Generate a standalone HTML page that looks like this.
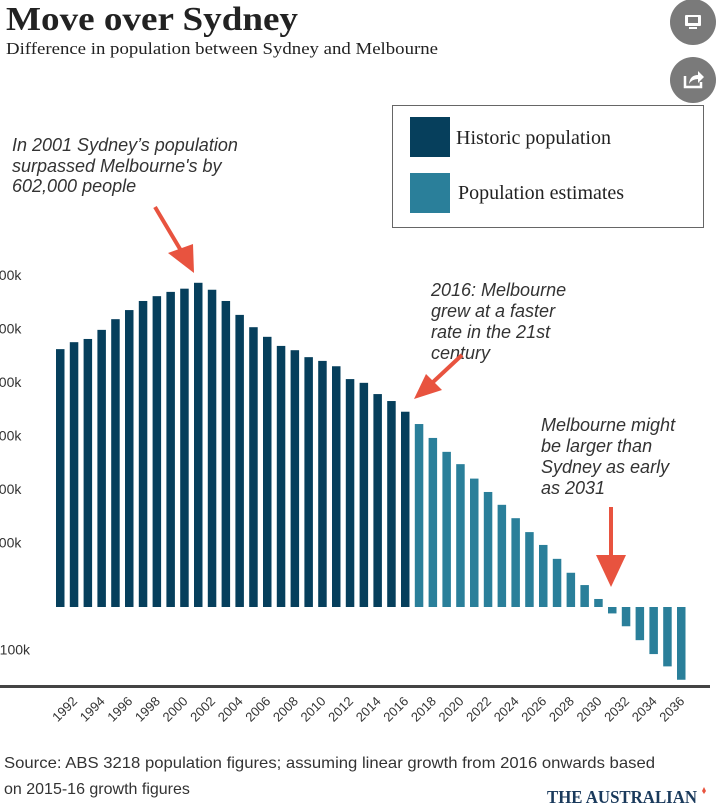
<!DOCTYPE html>
<html><head><meta charset="utf-8"><style>
html,body{margin:0;padding:0;background:#fff;width:725px;height:811px;overflow:hidden}
svg{display:block}
</style></head><body>
<svg id="chart" width="725" height="811" viewBox="0 0 725 811" xmlns="http://www.w3.org/2000/svg">
<text x="6" y="30" font-family="Liberation Serif, serif" font-weight="bold" font-size="34" fill="#222" textLength="292" lengthAdjust="spacingAndGlyphs">Move over Sydney</text>
<text x="6" y="54" font-family="Liberation Serif, serif" font-size="17" fill="#222" textLength="432" lengthAdjust="spacingAndGlyphs">Difference in population between Sydney and Melbourne</text>
<g><circle cx="693" cy="22" r="23" fill="#7a7a7a"/><rect x="685" y="15" width="16" height="11" rx="1" fill="#fff"/><rect x="688" y="17" width="10" height="6" fill="#7a7a7a"/><rect x="689" y="27" width="8" height="2" fill="#fff"/></g>
<g><circle cx="693" cy="80" r="23" fill="#7a7a7a"/><path d="M685 76 v11 h16 v-5" stroke="#fff" stroke-width="2.5" fill="none"/><path d="M689 84 q1 -9 9 -9 v-4 l6 6 -6 6 v-4 q-6 0 -9 5z" fill="#fff"/></g>
<g>
<rect x="392.5" y="105.5" width="311" height="122" fill="#fff" stroke="#666" stroke-width="1"/>
<rect x="410" y="117" width="40" height="40" fill="#063f5c"/>
<text x="456" y="144" font-family="Liberation Serif, serif" font-size="20" fill="#222">Historic population</text>
<rect x="410" y="173" width="40" height="40" fill="#2a7f9a"/>
<text x="458" y="199" font-family="Liberation Serif, serif" font-size="20" fill="#222">Population estimates</text>
</g>
<g font-family="Liberation Sans, sans-serif" font-style="italic" font-size="18" fill="#333">
<text><tspan x="12" y="151">In 2001 Sydney’s population</tspan><tspan x="12" y="172">surpassed Melbourne's by</tspan><tspan x="12" y="192">602,000 people</tspan></text>
<text><tspan x="431" y="296">2016: Melbourne</tspan><tspan x="431" y="317">grew at a faster</tspan><tspan x="431" y="338">rate in the 21st</tspan><tspan x="431" y="359">century</tspan></text>
<text><tspan x="541" y="431">Melbourne might</tspan><tspan x="541" y="452">be larger than</tspan><tspan x="541" y="473">Sydney as early</tspan><tspan x="541" y="494">as 2031</tspan></text>
</g>
<g fill="#e8533f" stroke="#e8533f">
<line x1="155" y1="207" x2="183" y2="254" stroke-width="4"/><polygon points="194,273 168,253 193,244" stroke="none"/>
<line x1="462" y1="355" x2="432" y2="383" stroke-width="4"/><polygon points="414,399 426,374 442,390" stroke="none"/>
<line x1="611" y1="507" x2="611" y2="560" stroke-width="4"/><polygon points="611,587 596,555 626,555" stroke="none"/>
</g>
<g id="axes"></g>
<g id="bars"></g>
<text x="4" y="768" font-family="Liberation Sans, sans-serif" font-size="16" fill="#333" textLength="651" lengthAdjust="spacingAndGlyphs">Source:  ABS 3218 population figures; assuming linear growth from 2016 onwards based</text>
<text x="4" y="794" font-family="Liberation Sans, sans-serif" font-size="16" fill="#333">on 2015-16 growth figures</text>
<text x="547" y="803" font-family="Liberation Serif, serif" font-weight="bold" font-size="18" fill="#1a3a5c" textLength="150" lengthAdjust="spacingAndGlyphs">THE AUSTRALIAN</text>
<path d="M702 791 l2 -4 2 4 -2 3z" fill="#e8533f"/>
</svg>
<script>
const years = [];
for (let y = 1991; y <= 2036; y++) years.push(y);
const historic = [482,495,501,518,538,555,572,581,589,595,606,593,572,546,523,505,488,480,467,460,450,426,419,398,385,365];
const estimates = [342,316,290,267,240,215,191,166,140,116,90,64,41,15,-12,-36,-62,-88,-111,-136];
const yTicks = [600,500,400,300,200,100,-100];
const yTickLabels = ["600k","500k","400k","300k","200k","100k","-100k"];

const NS = "http://www.w3.org/2000/svg";
const x0 = 56, pitch = 13.8, bw = 8.5;
const zeroY = 607, pxPer = 0.535;
function xScale(i){ return x0 + i*pitch; }
function yScale(v){ return zeroY - v*pxPer; }

const axes = document.getElementById('axes');
yTicks.forEach((t,i)=>{
  const tx = document.createElementNS(NS,'text');
  tx.setAttribute('x', t < 0 ? -5 : -9);
  tx.setAttribute('y', yScale(t) - 6);
  tx.setAttribute('font-family','Liberation Sans, sans-serif');
  tx.setAttribute('font-size','14');
  tx.setAttribute('fill','#333');
  tx.textContent = yTickLabels[i];
  
  
  axes.appendChild(tx);
});
const axisLine = document.createElementNS(NS,'rect');
axisLine.setAttribute('x', 0); axisLine.setAttribute('y', 685);
axisLine.setAttribute('width', 710); axisLine.setAttribute('height', 3);
axisLine.setAttribute('fill', '#444');


axes.appendChild(axisLine);

const bars = document.getElementById('bars');
const values = historic.concat(estimates);
values.forEach((v,i)=>{
  const r = document.createElementNS(NS,'rect');
  const yv = yScale(v);
  r.setAttribute('x', xScale(i));
  r.setAttribute('y', Math.min(yv, zeroY));
  r.setAttribute('width', bw);
  r.setAttribute('height', Math.abs(zeroY - yv));
  r.setAttribute('fill', i < historic.length ? '#063f5c' : '#2a7f9a');
  
  
  bars.appendChild(r);
  if (years[i] % 2 === 0) {
    const cx = xScale(i) + bw/2 + 4;
    const t = document.createElementNS(NS,'text');
    t.setAttribute('x', cx);
    t.setAttribute('y', 702);
    t.setAttribute('text-anchor','end');
    t.setAttribute('transform', 'rotate(-45 ' + cx + ' 702)');
    t.setAttribute('font-family','Liberation Sans, sans-serif');
    t.setAttribute('font-size','13');
    t.setAttribute('fill','#333');
    t.textContent = years[i];
    
    
    axes.appendChild(t);
  }
});
</script>
</body></html>
